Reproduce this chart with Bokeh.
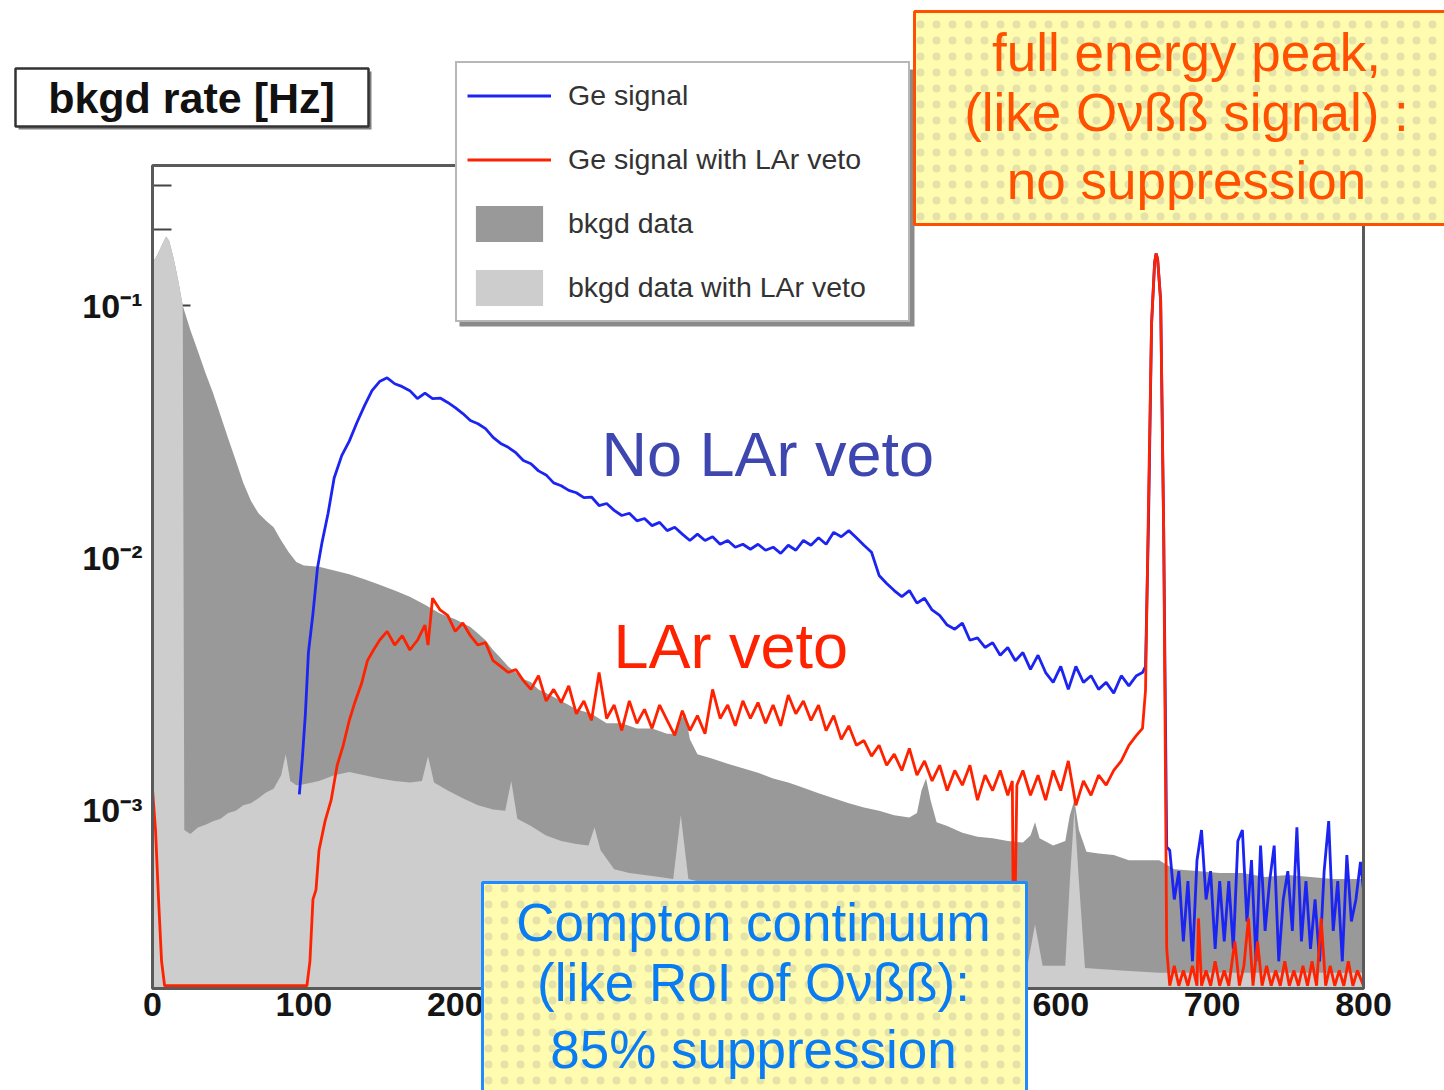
import math
from bokeh.plotting import figure
from bokeh.models import (Range1d, FixedTicker, Legend, LegendItem, Label,
                          BoxAnnotation)
from bokeh.embed import file_html
from bokeh.resources import INLINE

# ---------------- data (energy [keV], rate [Hz]) ----------------
GE_SIGNAL = [
    (97, 1.15e-3), (99, 1.6e-3), (101, 2.4e-3), (103, 4.2e-3), (106, 6.0e-3), (109, 9.1e-3),
    (112, 1.15e-2), (116, 1.5e-2), (120, 2.07e-2), (125, 2.54e-2), (130, 2.9e-2), (135, 3.43e-2),
    (140, 4.0e-2), (145, 4.6e-2), (150, 5.0e-2), (155, 5.17e-2), (160, 4.9e-2), (165, 4.77e-2),
    (170, 4.6e-2), (175, 4.28e-2), (180, 4.5e-2), (185, 4.28e-2), (190, 4.3e-2), (195, 4.13e-2),
    (200, 3.94e-2), (205, 3.73e-2), (210, 3.5e-2), (215, 3.4e-2), (220, 3.25e-2), (225, 3.0e-2),
    (230, 2.84e-2), (235, 2.74e-2), (240, 2.61e-2), (245, 2.43e-2), (250, 2.36e-2), (255, 2.21e-2),
    (260, 2.13e-2), (265, 1.98e-2), (270, 1.93e-2), (275, 1.85e-2), (280, 1.81e-2), (285, 1.73e-2),
    (290, 1.74e-2), (295, 1.61e-2), (300, 1.64e-2), (305, 1.54e-2), (310, 1.47e-2), (315, 1.5e-2),
    (320, 1.4e-2), (325, 1.43e-2), (330, 1.34e-2), (335, 1.38e-2), (340, 1.28e-2), (345, 1.32e-2),
    (350, 1.24e-2), (355, 1.17e-2), (360, 1.24e-2), (365, 1.17e-2), (370, 1.21e-2), (375, 1.13e-2),
    (380, 1.17e-2), (385, 1.10e-2), (390, 1.13e-2), (395, 1.08e-2), (400, 1.13e-2), (405, 1.07e-2),
    (410, 1.10e-2), (415, 1.04e-2), (420, 1.12e-2), (425, 1.07e-2), (430, 1.17e-2), (435, 1.12e-2),
    (440, 1.20e-2), (445, 1.13e-2), (450, 1.26e-2), (455, 1.21e-2), (460, 1.28e-2), (465, 1.20e-2),
    (470, 1.12e-2), (475, 1.05e-2), (480, 8.5e-3), (485, 7.9e-3), (490, 7.4e-3), (495, 7.0e-3),
    (500, 7.4e-3), (505, 6.6e-3), (510, 6.9e-3), (515, 6.2e-3), (520, 5.9e-3), (525, 5.4e-3),
    (530, 5.2e-3), (535, 5.5e-3), (540, 4.7e-3), (545, 4.8e-3), (550, 4.4e-3), (555, 4.6e-3),
    (560, 4.1e-3), (565, 4.4e-3), (570, 3.9e-3), (575, 4.2e-3), (580, 3.6e-3), (585, 4.1e-3),
    (590, 3.5e-3), (595, 3.2e-3), (600, 3.7e-3), (605, 3.0e-3), (610, 3.7e-3), (615, 3.2e-3),
    (620, 3.4e-3), (625, 3.0e-3), (630, 3.2e-3), (635, 2.9e-3), (640, 3.4e-3), (645, 3.1e-3),
    (650, 3.4e-3), (654, 3.5e-3), (656, 3.7e-3), (658, 1.4e-2), (660, 8.5e-2), (662, 0.148),
    (663, 0.161), (664, 0.153), (666, 0.105), (668, 1.28e-2), (670, 7.1e-4),
    (672, 6.9e-4), (675, 4.4e-4), (678, 5.7e-4), (681, 3.0e-4), (684, 5.2e-4), (687, 2.5e-4),
    (690, 6.3e-4), (693, 8.3e-4), (696, 4.4e-4), (699, 5.7e-4), (702, 2.8e-4), (705, 5.2e-4),
    (708, 3.0e-4), (711, 5.2e-4), (714, 2.8e-4), (717, 7.5e-4), (720, 8.3e-4), (723, 3.6e-4),
    (726, 6.3e-4), (729, 2.5e-4), (732, 7.2e-4), (735, 3.3e-4), (738, 5.2e-4), (741, 7.2e-4),
    (744, 2.5e-4), (747, 4.4e-4), (750, 5.7e-4), (753, 3.3e-4), (756, 8.5e-4), (759, 3.0e-4),
    (762, 5.2e-4), (765, 2.8e-4), (768, 4.4e-4), (771, 2.5e-4), (774, 5.7e-4), (777, 9.0e-4),
    (780, 3.3e-4), (783, 5.2e-4), (786, 2.5e-4), (789, 6.6e-4), (792, 3.6e-4), (795, 4.4e-4),
    (798, 6.2e-4), (800, 4.8e-4),
]

GE_SIGNAL_LAR_VETO = [
    (0, 1.2e-3), (2, 8.3e-4), (4, 4.4e-4), (6, 2.5e-4), (8, 2.0e-4), (20, 2.0e-4), (40, 2.0e-4),
    (60, 2.0e-4), (80, 2.0e-4), (102, 2.0e-4), (104, 2.5e-4), (106, 4.4e-4), (108, 4.8e-4),
    (110, 6.9e-4), (114, 9.0e-4), (118, 1.09e-3), (122, 1.5e-3), (126, 1.8e-3), (130, 2.26e-3),
    (134, 2.7e-3), (138, 3.15e-3), (142, 3.9e-3), (146, 4.3e-3), (150, 4.7e-3), (155, 5.1e-3),
    (160, 4.5e-3), (165, 4.9e-3), (170, 4.3e-3), (175, 4.7e-3), (180, 5.4e-3), (182, 4.5e-3),
    (185, 6.9e-3), (190, 6.2e-3), (195, 5.9e-3), (200, 5.1e-3), (205, 5.5e-3), (210, 4.9e-3),
    (215, 4.5e-3), (220, 4.6e-3), (225, 3.9e-3), (230, 3.7e-3), (235, 3.5e-3), (240, 3.6e-3),
    (245, 3.25e-3), (250, 3.0e-3), (255, 3.4e-3), (260, 2.7e-3), (265, 3.0e-3), (270, 2.66e-3),
    (275, 3.1e-3), (280, 2.4e-3), (285, 2.7e-3), (290, 2.26e-3), (295, 3.5e-3), (300, 2.3e-3),
    (305, 2.6e-3), (310, 2.06e-3), (315, 2.7e-3), (320, 2.2e-3), (325, 2.5e-3), (330, 2.1e-3),
    (335, 2.6e-3), (340, 2.26e-3), (345, 1.97e-3), (350, 2.47e-3), (355, 2.06e-3), (360, 2.36e-3),
    (365, 2.0e-3), (370, 3.0e-3), (375, 2.3e-3), (380, 2.6e-3), (385, 2.15e-3), (390, 2.7e-3),
    (395, 2.3e-3), (400, 2.66e-3), (405, 2.2e-3), (410, 2.6e-3), (415, 2.15e-3), (420, 2.85e-3),
    (425, 2.4e-3), (430, 2.7e-3), (435, 2.26e-3), (440, 2.6e-3), (445, 2.06e-3), (450, 2.36e-3),
    (455, 1.9e-3), (460, 2.15e-3), (465, 1.8e-3), (470, 1.88e-3), (475, 1.63e-3), (480, 1.8e-3),
    (485, 1.5e-3), (490, 1.66e-3), (495, 1.43e-3), (500, 1.75e-3), (505, 1.37e-3), (510, 1.56e-3),
    (515, 1.3e-3), (520, 1.5e-3), (525, 1.19e-3), (530, 1.43e-3), (535, 1.25e-3), (540, 1.5e-3),
    (545, 1.09e-3), (550, 1.37e-3), (555, 1.19e-3), (560, 1.43e-3), (565, 1.14e-3), (568, 1.3e-3),
    (569, 2.0e-4), (571, 1.25e-3), (575, 1.43e-3), (580, 1.14e-3), (585, 1.37e-3), (590, 1.09e-3),
    (595, 1.43e-3), (600, 1.19e-3), (605, 1.56e-3), (610, 1.04e-3), (615, 1.3e-3), (620, 1.14e-3),
    (625, 1.37e-3), (630, 1.25e-3), (635, 1.43e-3), (640, 1.56e-3), (645, 1.8e-3), (650, 1.97e-3),
    (654, 2.1e-3), (656, 2.97e-3), (658, 1.68e-2), (660, 8.5e-2), (662, 0.148), (663, 0.161),
    (664, 0.153), (666, 0.105), (668, 1.28e-2), (670, 2.8e-4),
    (672, 2.0e-4), (675, 2.4e-4), (678, 2.0e-4), (681, 2.3e-4), (684, 2.0e-4), (687, 2.4e-4),
    (690, 2.0e-4), (691, 3.7e-4), (693, 2.0e-4), (696, 2.3e-4), (699, 2.0e-4), (702, 2.5e-4),
    (705, 2.0e-4), (708, 2.3e-4), (711, 2.0e-4), (715, 3.0e-4), (718, 2.0e-4), (721, 2.4e-4),
    (724, 3.7e-4), (727, 2.0e-4), (730, 3.0e-4), (733, 2.0e-4), (736, 2.4e-4), (739, 2.0e-4),
    (742, 2.3e-4), (745, 2.0e-4), (748, 2.5e-4), (751, 2.0e-4), (754, 2.3e-4), (757, 2.0e-4),
    (760, 2.4e-4), (763, 2.0e-4), (766, 2.5e-4), (769, 2.0e-4), (772, 3.7e-4), (775, 2.0e-4),
    (778, 2.4e-4), (781, 2.0e-4), (784, 2.3e-4), (787, 2.0e-4), (790, 2.5e-4), (793, 2.0e-4),
    (796, 2.3e-4), (800, 2.0e-4),
]

BKGD_DATA = [
    (0, 0.148), (3, 0.158), (6, 0.173), (9, 0.188), (11, 0.181), (14, 0.154), (17, 0.126),
    (20, 0.100), (25, 0.080), (30, 0.066), (35, 0.054), (40, 0.045), (45, 0.0366), (50, 0.0297),
    (55, 0.0243), (60, 0.0198), (65, 0.0168), (70, 0.0150), (75, 0.0140), (80, 0.0132),
    (85, 0.0117), (90, 0.0105), (95, 0.0096), (100, 0.0093), (110, 0.0092), (120, 0.0089),
    (130, 0.0086), (140, 0.0082), (150, 0.0078), (160, 0.0074), (170, 0.0070), (180, 0.0065),
    (190, 0.0060), (200, 0.0057), (210, 0.0053), (215, 0.0050), (220, 0.0047), (225, 0.0043),
    (230, 0.0040), (235, 0.0037), (240, 0.0035), (245, 0.0033), (250, 0.0032), (255, 0.0030),
    (260, 0.0029), (265, 0.0028), (270, 0.0027), (275, 0.0026), (280, 0.0025), (285, 0.00245),
    (290, 0.0024), (295, 0.0023), (300, 0.0022), (310, 0.0022), (320, 0.0021), (330, 0.0021),
    (340, 0.0020), (345, 0.0020), (349, 0.0023), (352, 0.0024), (355, 0.0019), (360, 0.00166),
    (370, 0.00159), (380, 0.00152), (390, 0.00146), (400, 0.00140), (410, 0.00133), (420, 0.00128),
    (430, 0.00122), (440, 0.00116), (450, 0.00111), (460, 0.00106), (470, 0.00102), (480, 0.00099),
    (490, 0.00095), (500, 0.00093), (505, 0.00097), (508, 0.00119), (511, 0.00133), (514, 0.00109),
    (518, 0.00089), (525, 0.00086), (535, 0.00081), (545, 0.00078), (555, 0.00077), (565, 0.00075),
    (575, 0.00074), (580, 0.00079), (583, 0.00089), (586, 0.00077), (595, 0.00072), (603, 0.00075),
    (606, 0.00095), (609, 0.00109), (612, 0.00083), (617, 0.00068), (625, 0.00067), (635, 0.00066),
    (645, 0.00063), (655, 0.00063), (665, 0.00063), (675, 0.00058), (690, 0.00057), (705, 0.00056),
    (720, 0.00056), (735, 0.00054), (750, 0.00055), (765, 0.00054), (780, 0.00053), (800, 0.00053),
]

BKGD_DATA_LAR_VETO = [
    (0, 0.148), (3, 0.158), (6, 0.173), (9, 0.188), (11, 0.181), (14, 0.154), (17, 0.126),
    (20, 0.100), (21, 8.3e-4), (25, 8.0e-4), (30, 8.5e-4), (35, 8.7e-4), (40, 9.0e-4),
    (45, 9.2e-4), (50, 9.7e-4), (55, 9.9e-4), (60, 1.04e-3), (65, 1.06e-3), (70, 1.11e-3),
    (75, 1.17e-3), (80, 1.21e-3), (85, 1.37e-3), (88, 1.66e-3), (91, 1.30e-3), (95, 1.25e-3),
    (100, 1.26e-3), (110, 1.30e-3), (120, 1.37e-3), (130, 1.41e-3), (140, 1.37e-3), (150, 1.33e-3),
    (160, 1.30e-3), (170, 1.28e-3), (178, 1.30e-3), (182, 1.63e-3), (186, 1.28e-3), (195, 1.19e-3),
    (205, 1.11e-3), (215, 1.04e-3), (225, 1.00e-3), (233, 9.9e-4), (237, 1.30e-3), (241, 9.2e-4),
    (250, 8.6e-4), (260, 7.9e-4), (270, 7.5e-4), (280, 7.3e-4), (288, 7.2e-4), (292, 8.5e-4),
    (296, 6.9e-4), (305, 5.8e-4), (315, 5.6e-4), (325, 5.5e-4), (335, 5.4e-4), (344, 5.3e-4),
    (349, 9.5e-4), (354, 5.3e-4), (365, 5.1e-4), (380, 4.6e-4), (400, 4.2e-4), (420, 3.8e-4),
    (440, 3.5e-4), (460, 3.2e-4), (480, 3.0e-4), (500, 2.8e-4), (508, 2.9e-4), (511, 4.4e-4),
    (514, 2.8e-4), (530, 2.65e-4), (560, 2.5e-4), (578, 2.4e-4), (583, 3.5e-4), (588, 2.4e-4),
    (603, 2.4e-4), (606, 5.2e-4), (609, 1.0e-3), (612, 5.2e-4), (616, 2.35e-4), (640, 2.3e-4),
    (665, 2.25e-4), (700, 2.25e-4), (800, 2.25e-4),
]

X_MIN, X_MAX = 0, 800
Y_MIN, Y_MAX = 1.95e-4, 0.36
X_TICKS = [0, 100, 200, 300, 400, 500, 600, 700, 800]
X_MINOR_TICKS = [v for v in range(0, 801, 20) if v % 100 != 0]
Y_TICKS = [1e-3, 1e-2, 1e-1]
Y_TICK_LABELS = ["10\u207b\u00b3", "10\u207b\u00b2", "10\u207b\u00b9"]
Y_MINOR_TICKS = [2e-4, 3e-4, 4e-4, 5e-4, 6e-4, 7e-4, 8e-4, 9e-4,
                 2e-3, 3e-3, 4e-3, 5e-3, 6e-3, 7e-3, 8e-3, 9e-3,
                 2e-2, 3e-2, 4e-2, 5e-2, 6e-2, 7e-2, 8e-2, 9e-2, 2e-1, 3e-1]

LEGEND_LABELS = ["Ge signal", "Ge signal with LAr veto", "bkgd data", "bkgd data with LAr veto"]


def unzip(pairs):
    return [a for a, _ in pairs], [b for _, b in pairs]


# ---------------- layout geometry (canvas pixels) ----------------
W, H = 1444, 1090
PLOT_L, PLOT_R, PLOT_T, PLOT_B = 152, 1363, 165, 988
kev_per_px = (X_MAX - X_MIN) / (PLOT_R - PLOT_L)
dec_per_px = (math.log10(Y_MAX) - math.log10(Y_MIN)) / (PLOT_B - PLOT_T)
x_range = Range1d(X_MIN - PLOT_L * kev_per_px, X_MAX + (W - PLOT_R) * kev_per_px)
y_range = Range1d(10 ** (math.log10(Y_MIN) - (H - PLOT_B) * dec_per_px),
                  10 ** (math.log10(Y_MAX) + PLOT_T * dec_per_px))

FONT = "Liberation Sans"

p = figure(width=W, height=H, y_axis_type="log", x_range=x_range, y_range=y_range,
           output_backend="svg", toolbar_location=None,
           min_border=0, min_border_left=0, min_border_right=0,
           min_border_top=0, min_border_bottom=0)
p.background_fill_color = "white"
p.border_fill_color = "white"
p.outline_line_color = None
p.grid.visible = False

# axes drawn at the edges of the plot box
p.xaxis.fixed_location = Y_MIN
p.yaxis.fixed_location = X_MIN
p.xaxis.ticker = FixedTicker(ticks=X_TICKS, minor_ticks=X_MINOR_TICKS)
p.yaxis.ticker = FixedTicker(ticks=Y_TICKS, minor_ticks=Y_MINOR_TICKS)
p.yaxis.major_label_overrides = {t: s for t, s in zip(Y_TICKS, Y_TICK_LABELS)}
for ax in (p.xaxis, p.yaxis):
    ax.axis_line_color = None
    ax.major_tick_out = 0
    ax.minor_tick_out = 0
    ax.major_tick_line_color = "#444444"
    ax.minor_tick_line_color = "#444444"
    ax.major_tick_line_width = 2
    ax.minor_tick_line_width = 2
    ax.major_label_text_font = FONT
    ax.major_label_text_font_style = "bold"
    ax.major_label_text_font_size = "34px"
    ax.major_label_text_color = "#151515"
p.xaxis.major_tick_in = 30
p.xaxis.minor_tick_in = 12
p.yaxis.major_tick_in = 38
p.yaxis.minor_tick_in = 19
p.xaxis.major_label_standoff = 4
p.yaxis.major_label_standoff = 10

# data glyphs (above tick marks, as in the original)
bx, by = unzip(BKGD_DATA)
r_bkgd = p.varea(x=bx, y1=Y_MIN, y2=by, fill_color="#999999", level="overlay")
lx, ly = unzip(BKGD_DATA_LAR_VETO)
r_bkgd_lar = p.varea(x=lx, y1=Y_MIN, y2=ly, fill_color="#cdcdcd", level="overlay")
gx, gy = unzip(GE_SIGNAL)
r_ge = p.line(gx, gy, line_color="#1c24f2", line_width=2.8, level="overlay")
vx, vy = unzip(GE_SIGNAL_LAR_VETO)
r_ge_lar = p.line(vx, vy, line_color="#ff2200", line_width=2.8, level="overlay")

# plot box border
p.add_layout(BoxAnnotation(left=X_MIN, right=X_MAX, bottom=Y_MIN, top=Y_MAX,
                           fill_alpha=0, line_color="#5a5a5a", line_alpha=1.0, line_width=3,
                           level="overlay"))


# helpers: canvas pixel -> screen units of the (full-canvas) frame
def sx(cx):
    return cx


def sy(cy):
    return H - cy


def box(left, top, right, bottom, **kw):
    return BoxAnnotation(left=sx(left), right=sx(right), top=sy(top), bottom=sy(bottom),
                         left_units="screen", right_units="screen",
                         top_units="screen", bottom_units="screen", level="overlay",
                         line_alpha=1.0, fill_alpha=1.0, **kw)


def label(cx, baseline, text, size, color, align="center", style="normal"):
    # Bokeh's alphabetic anchor sits ~0.4 em below the visual baseline
    return Label(x=sx(cx), y=sy(baseline - 0.4 * size), x_units="screen", y_units="screen",
                 text=text, text_align=align, text_baseline="alphabetic",
                 text_font=FONT, text_font_style=style, text_font_size=f"{size}px",
                 text_color=color, level="overlay")


DOTS = dict(hatch_pattern="dot", hatch_color="#a4a494", hatch_alpha=0.3,
            hatch_scale=16, hatch_weight=0.5)

# legend (with shadow)
p.add_layout(box(459, 69, 914, 326, fill_color="#8a8a8a", line_color=None))
legend = Legend(items=[LegendItem(label=LEGEND_LABELS[0], renderers=[r_ge]),
                       LegendItem(label=LEGEND_LABELS[1], renderers=[r_ge_lar]),
                       LegendItem(label=LEGEND_LABELS[2], renderers=[r_bkgd]),
                       LegendItem(label=LEGEND_LABELS[3], renderers=[r_bkgd_lar])],
                location=(sx(455), sy(322)), padding=10, spacing=19,
                glyph_width=84, glyph_height=45, label_standoff=17, label_width=330,
                label_text_font=FONT, label_text_font_size="28.5px",
                label_text_color="#333333",
                border_line_color="#6f6f6f", border_line_width=2.5,
                background_fill_color="white", background_fill_alpha=1.0, level="overlay")
p.add_layout(legend, "center")

# title box "bkgd rate [Hz]"
p.add_layout(box(18, 71, 371, 129, fill_color="#808080", line_color=None))
p.add_layout(box(15, 68, 368, 126, fill_color="white", line_color="#333333", line_width=2.5))
p.add_layout(label(191, 115, "bkgd rate [Hz]", 43, "#111111", style="bold"))

# in-plot annotations
p.add_layout(label(601, 479, "No LAr veto", 63, "#3e46af", align="left"))
p.add_layout(label(613, 671, "LAr veto", 63, "#ff2200", align="left"))

# orange call-out box
p.add_layout(box(914, 11, 1460, 224, fill_color="#fffcb0", line_color="#ff5000",
                 line_width=3, **DOTS))
for txt, base in zip(["full energy peak,", "(like O\u03bd\u00df\u00df signal) :", "no suppression"],
                     [73, 133, 201]):
    p.add_layout(label(1186, base, txt, 53, "#ff5000"))

# blue call-out box
p.add_layout(box(482, 882, 1026, 1100, fill_color="#fffcb0", line_color="#1e8bff",
                 line_width=3, **DOTS))
for txt, base in zip(["Compton continuum", "(like RoI of O\u03bd\u00df\u00df):", "85% suppression"],
                     [943, 1003, 1070]):
    p.add_layout(label(753, base, txt, 53, "#0a7cf2"))

open("out.html", "w").write(file_html(p, INLINE))
